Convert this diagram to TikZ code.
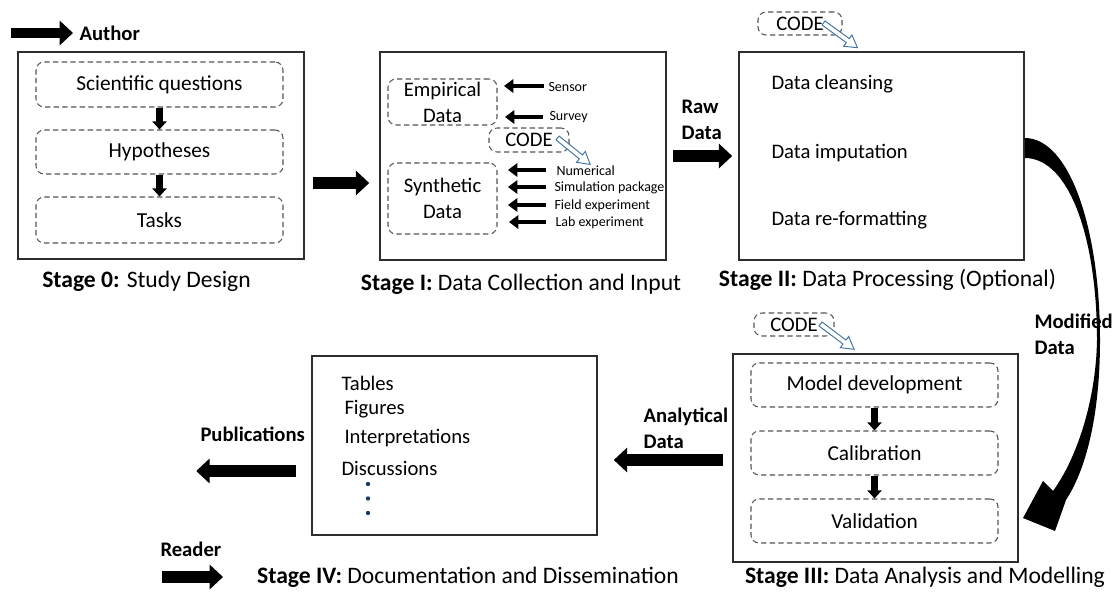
\documentclass[tikz,border=0pt]{standalone}
\usepackage{fontspec}
\setmainfont{Carlito}
\usetikzlibrary{arrows.meta,calc}

\definecolor{codeblue}{RGB}{65,113,156}
\definecolor{boxgray}{RGB}{45,45,45}
\definecolor{dashgray}{RGB}{85,85,85}
\definecolor{dotblue}{RGB}{31,56,100}

\tikzset{every picture/.style={line width=0.75pt}}
\tikzset{
  stagebox/.style={draw=boxgray, line width=1.2pt, inner sep=0pt},
  dashbox/.style={draw=dashgray, line width=0.8pt, dash pattern=on 4pt off 2.5pt, rounded corners=6pt,
    inner sep=0pt, align=center, font=\fontsize{16}{19.5}\selectfont},
  txt/.style={inner sep=0.75pt, align=left, font=\fontsize{15.5}{19.5}\selectfont},
  captxt/.style={inner sep=0.75pt, font=\fontsize{17.7}{21}\selectfont},
  lbl/.style={inner sep=0.75pt, align=left, font=\fontsize{15.5}{19.5}\selectfont\bfseries},
  smalltxt/.style={inner sep=0.75pt, font=\fontsize{10.5}{12}\selectfont},
  bigarrow/.style={line width=8.5pt, -{Triangle[length=10pt,width=18pt]}},
  downarrow/.style={line width=5.5pt, -{Triangle[length=6pt,width=10.5pt]}},
  inarrow/.style={line width=3.6pt, -{Triangle[length=7pt,width=10pt]}},
  pics/codearrow/.style={code={
    \draw[codeblue, fill=white, line width=0.7pt] (0,-2.5) -- (30,-2.5) -- (30,-7) -- (42,0) -- (30,7) -- (30,2.5) -- (0,2.5) -- cycle;}}
}

\begin{document}
\begin{tikzpicture}[x=0.75pt,y=0.75pt,yscale=-1,xscale=1]
\useasboundingbox (0,0) rectangle (1114,592);

%Stage 0
\node[stagebox, minimum width=214.5pt, minimum height=155.25pt] (s0) at (161,155.5) {};
\node[dashbox, minimum width=185.25pt, minimum height=33.75pt] (quest) at (159.5,84.5) {Scientific questions};
\node[dashbox, minimum width=185.25pt, minimum height=33pt] (hypo) at (159.5,152) {Hypotheses};
\node[dashbox, minimum width=185.25pt, minimum height=34.5pt] (tasks) at (159.5,220) {Tasks};
\draw[downarrow] (quest) -- (hypo);
\draw[downarrow] (hypo) -- (tasks);
% Text Node
\node[lbl, anchor=west] (author) at (78,33) {Author};
\draw[bigarrow, line width=7.5pt] ($(author.west)+(-67,0)$) -- ($(author.west)+(-5,0)$);
% Text Node
\node[captxt] (cap0) at (146.5,281) {\textbf{Stage 0:} Study Design};

%Stage I
\node[stagebox, minimum width=214.5pt, minimum height=156pt] (s1) at (523,156) {};
\node[dashbox, font=\fontsize{15.5}{19.5}\selectfont, minimum width=81.75pt, minimum height=34.5pt] (emp) at (442.5,102) {Empirical\\Data};
\node[dashbox, font=\fontsize{15.5}{19.5}\selectfont, minimum width=81.75pt, minimum height=53.25pt] (syn) at (442.5,198.5) {Synthetic\\Data};
\node[dashbox, font=\fontsize{15.5}{19.5}\selectfont, minimum width=60pt, minimum height=18pt] (code1) at (529,140) {CODE};
\pic[rotate=-39] at ($(code1.east)+(-12,-2)$) {codearrow};
% Text Node
\node[smalltxt, anchor=west] (sensor) at (547,87) {Sensor};
\node[smalltxt, anchor=west] (survey) at (548,117) {Survey};
\node[smalltxt, anchor=west] (numer) at (555,171) {Numerical};
\node[smalltxt, anchor=west] (simu) at (553,188) {Simulation package};
\node[smalltxt, anchor=west] (field) at (553,206) {Field experiment};
\node[smalltxt, anchor=west] (lab) at (554,223) {Lab experiment};
\draw[inarrow] ($(sensor.west)+(-3,-1)$) -- ++(-40,0);
\draw[inarrow] ($(survey.west)+(-5,0)$) -- ++(-38,0);
\draw[inarrow] ($(numer.west)+(-9,-1)$) -- ++(-38,0);
\draw[inarrow] ($(simu.west)+(-7,-1)$) -- ++(-38,0);
\draw[inarrow] ($(field.west)+(-7,-1)$) -- ++(-38,0);
\draw[inarrow] ($(lab.west)+(-8,-1)$) -- ++(-37,0);
% Text Node
\node[captxt] (cap1) at (521,284) {\textbf{Stage I:} Data Collection and Input};

%Stage II
\node[stagebox, minimum width=213.75pt, minimum height=156pt] (s2) at (881.5,156) {};
\node[dashbox, font=\fontsize{15.5}{19.5}\selectfont, minimum width=63pt, minimum height=17.25pt] (code2) at (800,23.5) {CODE};
\pic[rotate=-36] at ($(code2.east)+(-19,-0.5)$) {codearrow};
% Text Node
\node[txt, anchor=west] (clean) at (770,84) {Data cleansing};
\node[txt, anchor=west] (imput) at (770,153) {Data imputation};
\node[txt, anchor=west] (refmt) at (770,220) {Data re-formatting};
\node[captxt] (cap2) at (887.5,280) {\textbf{Stage II:} Data Processing (Optional)};

%Stage III
\node[stagebox, minimum width=213.75pt, minimum height=156pt] (s3) at (875.5,458) {};
\node[dashbox, minimum width=185.25pt, minimum height=33pt] (model) at (874.5,385) {Model development};
\node[dashbox, minimum width=185.25pt, minimum height=33pt] (calib) at (874.5,453) {Calibration};
\node[dashbox, minimum width=185.25pt, minimum height=33pt] (valid) at (874.5,521) {Validation};
\draw[downarrow] (model) -- (calib);
\draw[downarrow] (calib) -- (valid);
\node[dashbox, font=\fontsize{15.5}{19.5}\selectfont, minimum width=60pt, minimum height=17.25pt] (code3) at (794,324.5) {CODE};
\pic[rotate=-37] at ($(code3.east)+(-14,-0.5)$) {codearrow};
% Text Node
\node[captxt] (cap3) at (925,577) {\textbf{Stage III:} Data Analysis and Modelling};

%Stage IV
\node[stagebox, minimum width=213.75pt, minimum height=134.25pt] (s4) at (454.5,445.5) {};
% Text Node
\node[txt, anchor=west] (tables) at (340,383) {Tables};
\node[txt, anchor=west] (figs) at (343,409) {Figures};
\node[txt, anchor=west] (interp) at (343,438) {Interpretations};
\node[txt, anchor=west] (disc) at (340,468) {Discussions};
\fill[dotblue] (368,484) circle (2.2) (368,498.5) circle (2.2) (368,513) circle (2.2);
\node[captxt] (cap4) at (468,577) {\textbf{Stage IV:} Documentation and Dissemination};

% Arrows between stages
\draw[bigarrow] ($(s0.east)+(8,27.5)$) -- ($(s1.west)+(-10,27)$);
% Text Node
\node[lbl, anchor=west] (raw) at (680,120) {Raw\\Data};
\draw[bigarrow] ($(s1.east)+(6,0)$) -- ($(s2.west)+(-6,0)$);
% Text Node
\node[lbl, anchor=west] (mod) at (1033,334) {Modified\\Data};
%Curved arrow from Stage II to Stage III
\fill ($(s2.east)+(0,-18)$) .. controls (1070,138) and (1100,230) .. (1100,340)
  .. controls (1100,410) and (1088,466) .. (1066,500)
  -- (1055,531) -- (1023,518) -- (1043,481) -- (1053,491)
  .. controls (1077,458) and (1096,400) .. (1097,340)
  .. controls (1097,240) and (1070,158) .. ($(s2.east)+(0,2)$) -- cycle;
% Text Node
\node[lbl, anchor=west] (anly) at (642,428.5) {Analytical\\Data};
\draw[bigarrow] ($(s3.west)+(-9,2)$) -- ($(s4.east)+(16,14.5)$);
% Text Node
\node[lbl, anchor=west] (pub) at (199,434) {Publications};
\draw[bigarrow] ($(s4.west)+(-15,25.5)$) -- ++(-100,0);
% Text Node
\node[lbl, anchor=west] (reader) at (159,549) {Reader};
\draw[bigarrow] ($(reader.west)+(3,28)$) -- ++(61,0);

\end{tikzpicture}
\end{document}
